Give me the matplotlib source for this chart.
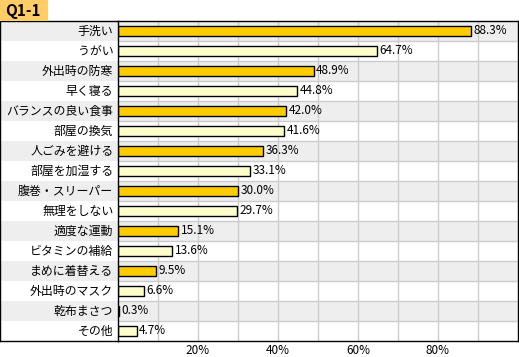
import matplotlib
matplotlib.use("Agg")
import matplotlib.pyplot as plt
from matplotlib.patches import Rectangle
import numpy as np

plt.rcParams["font.family"] = ["Noto Sans CJK JP", "DejaVu Sans"]

categories = [
    "手洗い", "うがい", "外出時の防寒", "早く寝る", "バランスの良い食事",
    "部屋の換気", "人ごみを避ける", "部屋を加湿する", "腹巻・スリーパー",
    "無理をしない", "適度な運動", "ビタミンの補給", "まめに着替える",
    "外出時のマスク", "乾布まさつ", "その他",
]
values = [88.3, 64.7, 48.9, 44.8, 42.0, 41.6, 36.3, 33.1, 30.0, 29.7,
          15.1, 13.6, 9.5, 6.6, 0.3, 4.7]
tick_values = [20, 40, 60, 80]
title = "Q1-1"

W, H = 519, 357
fig = plt.figure(figsize=(W / 100, H / 100), dpi=100)

# pixel geometry
top, bottom = 21, 341
lab_left, plot_left, plot_right = 0, 118, 518
b = (H - bottom) / H
h = (bottom - top) / H

n = len(categories)
y = np.arange(n)
row_bg = ["#EEEEEE" if i % 2 == 0 else "white" for i in range(n)]
bar_col = ["#FFCC00" if i % 2 == 0 else "#FFFFCC" for i in range(n)]

# label column
ax_lab = fig.add_axes([lab_left / W, b, (plot_left - lab_left) / W, h])
ax_lab.set_xlim(0, 1)
ax_lab.set_ylim(n - 0.5, -0.5)
for i in range(n):
    ax_lab.axhspan(i - 0.5, i + 0.5, color=row_bg[i], lw=0)
    ax_lab.text(0.96, i, categories[i], ha="right", va="center", fontsize=8.6)
ax_lab.set_xticks([])
ax_lab.set_yticks([])
for s in ax_lab.spines.values():
    s.set_color("black")
    s.set_linewidth(1)
ax_lab.spines["right"].set_visible(False)

# plot area
ax = fig.add_axes([plot_left / W, b, (plot_right - plot_left) / W, h])
ax.set_xlim(0, 100)
ax.set_ylim(n - 0.5, -0.5)
for i in range(n):
    ax.axhspan(i - 0.5, i + 0.5, color=row_bg[i], lw=0, zorder=0)
ax.vlines(np.arange(10, 100, 10), -0.5, n - 0.5, color="#CCCCCC", lw=1, zorder=1)
ax.hlines(np.arange(n - 1) + 0.5, 0, 100, color="#CCCCCC", lw=1, zorder=1)
ax.barh(y, values, height=0.48, color=bar_col, edgecolor="black", lw=1, zorder=2)
for i, v in enumerate(values):
    ax.text(v + 0.6, i, f"{v:.1f}%", ha="left", va="center", fontsize=8.5, zorder=3)
ax.set_yticks([])
ax.set_xticks(tick_values)
ax.set_xticklabels([f"{t}%" for t in tick_values], fontsize=8.5)
ax.tick_params(axis="x", length=0, pad=2)
for s in ax.spines.values():
    s.set_color("black")
    s.set_linewidth(1)

# title tab
fig.patches.append(Rectangle((0, 1 - 21 / H), 48 / W, 21 / H,
                             transform=fig.transFigure, color="#FFCC66", lw=0))
fig.text(5 / W, 1 - 11 / H, title, ha="left", va="center",
         fontsize=11, fontweight="bold")

fig.savefig("out.png", dpi=100)
